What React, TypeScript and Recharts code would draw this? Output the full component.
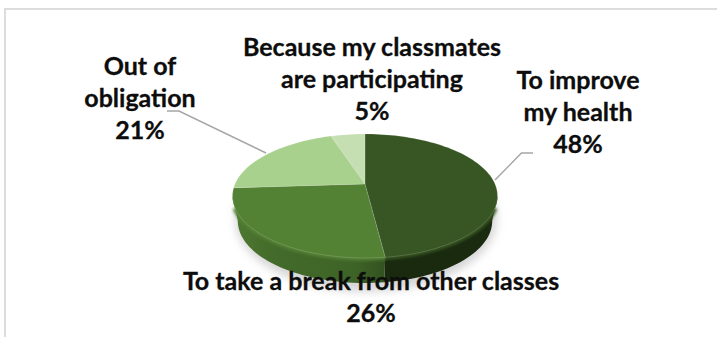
import { Pie, PieChart } from "recharts";

const categories = [
  "To improve my health",
  "To take a break from other classes",
  "Out of obligation",
  "Because my classmates are participating",
];
const shares = [48, 26, 21, 5];
const faceColors = ["#375623", "#548235", "#A9D18E", "#C5DFB2"];

// wrapped label rows, one list per slice
const labelRows = [
  ["To improve", "my health"],
  ["To take a break from other classes"],
  ["Out of", "obligation"],
  ["Because my classmates", "are participating"],
];
const labelAnchors = [
  { x: 578, y: 89 },
  { x: 371, y: 290 },
  { x: 140, y: 75 },
  { x: 372, y: 56 },
];
const leaders = [
  "M495 180 L521.5 153 L533 153",
  "",
  "M266 153 L179 111 L167 111",
  "",
];

const chartData = categories.map((name, i) => ({
  name,
  value: shares[i],
  fill: faceColors[i],
}));

const WIDTH = 717;
const HEIGHT = 337;
const CX = 365;
const CY = 184;
const RADIUS = 130;
const PERSPECTIVE = 0.1935; // foreshortening of the tilted disc
const SQUASH = 0.459;
const DEPTH = 25;
const BASE_SHRINK = 0.96;
const LINE_GAP = 32;

// clockwise degrees from 12 o'clock -> screen point on the tilted disc
function project(theta: number, cx: number, cy: number, r: number) {
  const rad = (theta * Math.PI) / 180;
  const u = Math.sin(rad);
  const v = -Math.cos(rad);
  const w = 1 - PERSPECTIVE * v;
  return { x: cx + (r * u) / w, y: cy + (r * SQUASH * v) / w };
}

function rimPoints(from: number, to: number, cx: number, cy: number, r: number) {
  const steps = Math.max(2, Math.ceil(Math.abs(to - from) / 2));
  const pts = [];
  for (let i = 0; i <= steps; i++) {
    pts.push(project(from + ((to - from) * i) / steps, cx, cy, r));
  }
  return pts;
}

const toPath = (pts: { x: number; y: number }[]) =>
  pts.map((p, i) => `${i ? "L" : "M"}${p.x.toFixed(2)} ${p.y.toFixed(2)}`).join(" ");

function Face(props: any) {
  const { cx, cy, outerRadius, startAngle, endAngle, fill } = props;
  const pts = rimPoints(90 - startAngle, 90 - endAngle, cx, cy, outerRadius);
  return (
    <path
      d={`M${cx} ${cy} ${toPath(pts).replace("M", "L")} Z`}
      fill={fill}
      stroke="#ffffff"
      strokeOpacity={0.18}
      strokeWidth={0.8}
    />
  );
}

// Wall of the disc, only along the front part of the rim
function Wall(props: any) {
  const { cx, cy, outerRadius, startAngle, endAngle, fill, index } = props;
  const from = Math.max(90 - startAngle, 101);
  const to = Math.min(90 - endAngle, 259);
  if (to <= from) return null;
  const top = rimPoints(from, to, cx, cy, outerRadius);
  const bottom = top
    .map((p) => ({ x: cx + (p.x - cx) * BASE_SHRINK, y: p.y + DEPTH }))
    .reverse();
  // the soft bevel stops short of the outline so it does not poke past the disc
  const bevel = rimPoints(Math.max(from, 112), Math.min(to, 248), cx, cy, outerRadius);
  return (
    <g>
      <path d={`${toPath(top)} ${toPath(bottom).replace("M", "L")} Z`} fill={`url(#wall${index})`} />
      <path d={toPath(bevel)} fill="none" stroke={fill} strokeWidth={5} filter="url(#rimSoft)" />
    </g>
  );
}

function SliceLabel(props: any) {
  const i = props.index;
  const anchor = labelAnchors[i];
  const rows = [...labelRows[i], `${shares[i]}%`];
  return (
    <g>
      {leaders[i] && <path d={leaders[i]} fill="none" stroke="#a6a6a6" strokeWidth={1.5} />}
      <text
        textAnchor="middle"
        fontFamily="Lato"
        fontWeight={700}
        fontSize={25}
        fill="#0d0d0d"
        stroke="#0d0d0d"
        strokeWidth={0.3}
      >
        {rows.map((row, r) => (
          <tspan key={row} x={anchor.x} y={anchor.y + r * LINE_GAP}>
            {row}
          </tspan>
        ))}
      </text>
    </g>
  );
}

const Frame = () => (
  <div
    style={{
      position: "absolute",
      left: 4,
      top: 8,
      width: WIDTH - 4,
      height: HEIGHT - 8,
      boxSizing: "border-box",
      borderTop: "2px solid #dcdcdc",
      borderLeft: "2px solid #dcdcdc",
    }}
  />
);

export default function App() {
  return (
    <div style={{ position: "absolute", left: 0, top: 0, width: WIDTH, height: HEIGHT, background: "#fff", overflow: "hidden" }}>
      <Frame />
      <div style={{ position: "absolute", left: 0, top: 0 }}>
        <PieChart width={WIDTH} height={HEIGHT} margin={{ top: 0, right: 0, bottom: 0, left: 0 }}>
          <defs>
            <filter id="rimSoft" x="-10%" y="-20%" width="120%" height="140%">
              <feGaussianBlur stdDeviation="1.4" />
            </filter>
            <filter id="dropSoft" x="-10%" y="-20%" width="120%" height="140%">
              <feGaussianBlur stdDeviation="4" />
            </filter>
            <linearGradient id="wall0" x1="0" y1="0" x2="1" y2="0">
              <stop offset="0%" stopColor="#192a0e" />
              <stop offset="60%" stopColor="#1a2a0f" />
              <stop offset="100%" stopColor="#1b2b10" />
            </linearGradient>
            <linearGradient id="wall1" x1="0" y1="0" x2="1" y2="0">
              <stop offset="0%" stopColor="#4f7a32" />
              <stop offset="25%" stopColor="#436b2a" />
              <stop offset="80%" stopColor="#3e6327" />
              <stop offset="100%" stopColor="#33521f" />
            </linearGradient>
          </defs>
          <ellipse cx={CX + 1} cy={CY + 35} rx={131} ry={73} fill="#9a9a9a" fillOpacity={0.4} filter="url(#dropSoft)" />
          <Pie
            data={chartData}
            dataKey="value"
            nameKey="name"
            cx={CX}
            cy={CY}
            outerRadius={RADIUS}
            startAngle={90}
            endAngle={-270}
            stroke="none"
            shape={Wall}
            isAnimationActive={false}
          />
          <Pie
            data={chartData}
            dataKey="value"
            nameKey="name"
            cx={CX}
            cy={CY}
            outerRadius={RADIUS}
            startAngle={90}
            endAngle={-270}
            stroke="none"
            shape={Face}
            label={SliceLabel}
            labelLine={false}
            isAnimationActive={false}
          />
        </PieChart>
      </div>
    </div>
  );
}
